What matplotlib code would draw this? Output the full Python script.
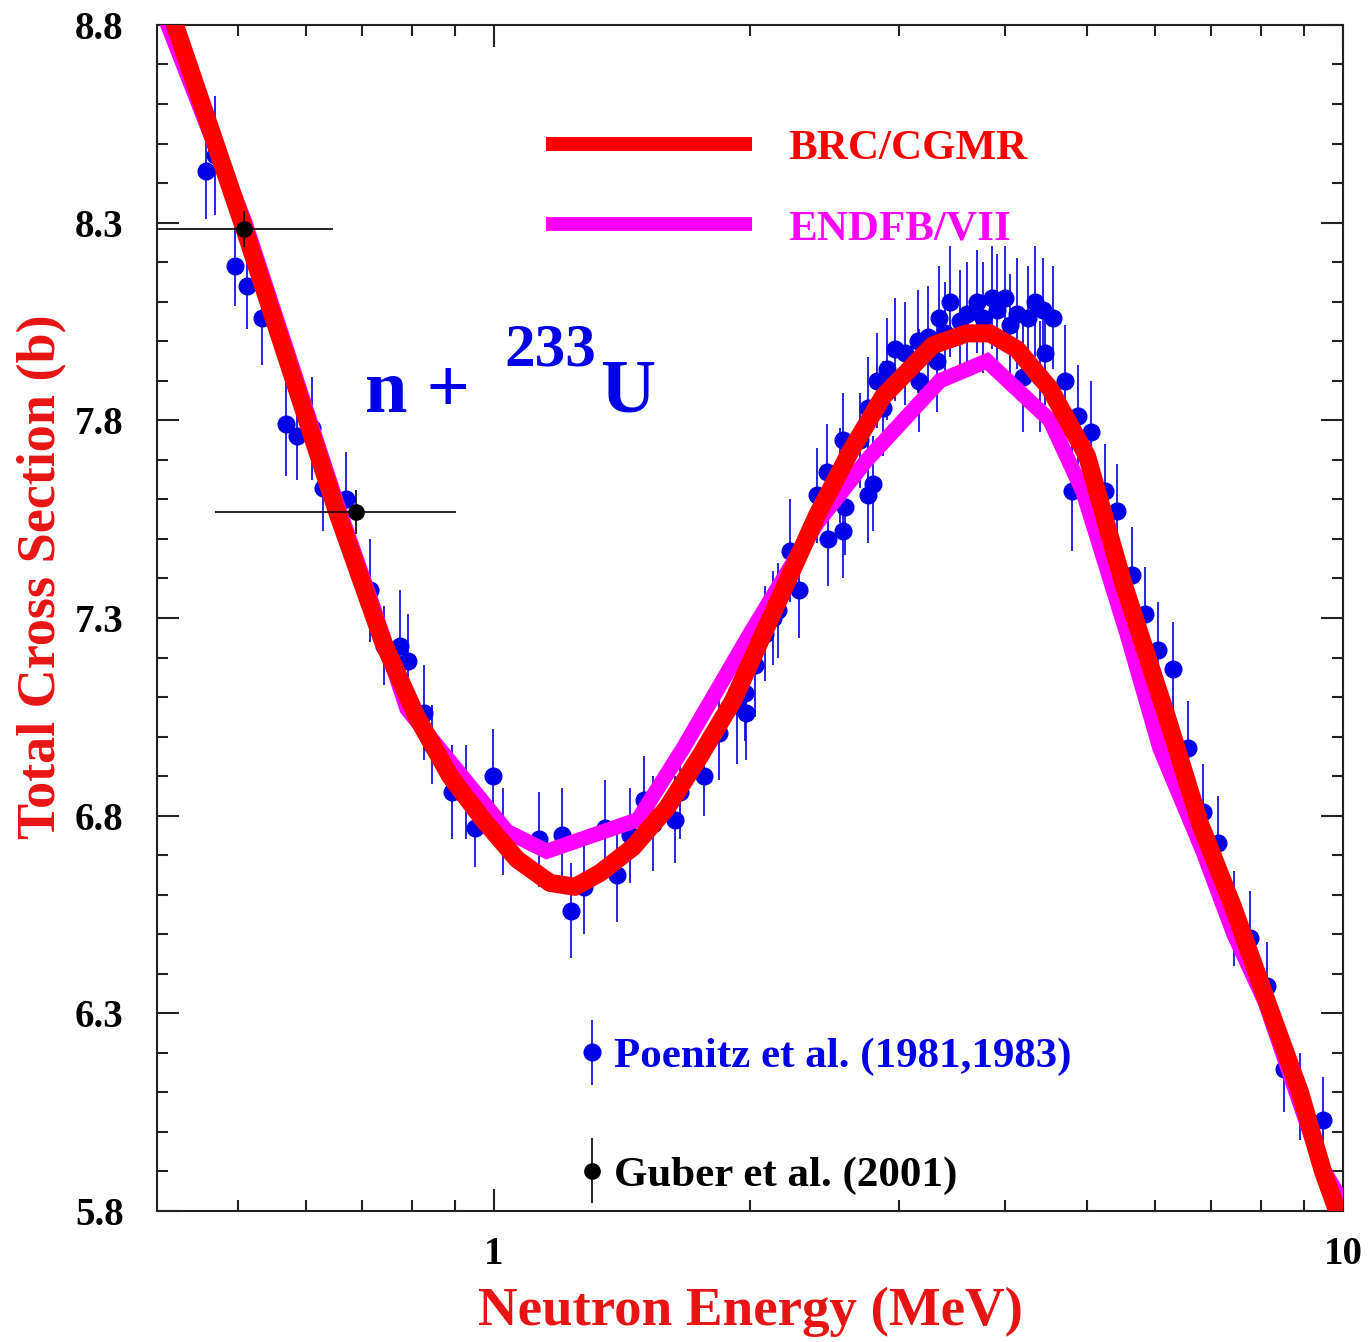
import numpy as np
import matplotlib
matplotlib.use('Agg')
import matplotlib.pyplot as plt
from matplotlib.ticker import FixedLocator, NullFormatter, LogLocator, MultipleLocator
from matplotlib.container import ErrorbarContainer
from matplotlib.legend_handler import HandlerErrorbar

plt.rcParams['font.family'] = ['Liberation Serif', 'DejaVu Serif']
plt.rcParams['font.weight'] = 'bold'

BLUE = '#0000e6'
RED = '#ff0000'
LABEL_RED = '#e81414'
MAGENTA = '#ff00ff'

# Poenitz et al. (1981,1983): energy (MeV), total cross section (b), error (b)
poen_E = [0.458, 0.469, 0.495, 0.512, 0.533, 0.569, 0.586, 0.610, 0.629, 0.669,
          0.714, 0.742, 0.775, 0.792, 0.827, 0.845, 0.892, 0.927, 0.950, 0.997,
          1.025, 1.130, 1.202, 1.232, 1.276, 1.351, 1.396, 1.446, 1.502, 1.539,
          1.634, 1.656, 1.767, 1.841, 1.932, 1.975, 1.981, 2.030, 2.085, 2.131,
          2.160, 2.232, 2.287, 2.402, 2.467, 2.474, 2.556, 2.575, 2.591, 2.580,
          2.698, 2.757, 2.795, 2.760, 2.826, 2.872, 2.903, 2.967, 3.049, 3.158,
          3.166, 3.245, 3.325, 3.343, 3.398, 3.444, 3.539, 3.607, 3.707, 3.767,
          3.860, 3.913, 3.999, 4.054, 4.130, 4.199, 4.256, 4.338, 4.398, 4.433,
          4.457, 4.555, 4.706, 4.796, 4.875, 5.050, 5.245, 5.418, 5.643, 5.846,
          6.055, 6.306, 6.567, 6.840, 7.124, 7.440, 7.771, 8.137, 8.520, 8.901,
          9.472]
poen_s = [8.43, 8.47, 8.19, 8.14, 8.06, 7.79, 7.76, 7.78, 7.63, 7.60,
          7.37, 7.23, 7.23, 7.19, 7.06, 6.98, 6.86, 6.86, 6.77, 6.90,
          6.76, 6.74, 6.75, 6.56, 6.62, 6.77, 6.65, 6.75, 6.84, 6.78,
          6.79, 6.86, 6.90, 7.01, 7.08, 7.11, 7.06, 7.18, 7.26, 7.30,
          7.32, 7.47, 7.37, 7.61, 7.67, 7.50, 7.66, 7.52, 7.58, 7.75,
          7.75, 7.61, 7.64, 7.83, 7.90, 7.83, 7.93, 7.98, 7.97, 8.00,
          7.90, 8.01, 7.95, 8.06, 8.02, 8.10, 8.05, 8.07, 8.10, 8.06,
          8.11, 8.08, 8.11, 8.04, 8.07, 7.91, 8.06, 8.10, 7.91, 8.08,
          7.97, 8.06, 7.90, 7.62, 7.81, 7.77, 7.62, 7.57, 7.41, 7.31,
          7.22, 7.17, 6.97, 6.81, 6.73, 6.54, 6.49, 6.37, 6.16, 6.09,
          6.03]
poen_err = [0.12, 0.15, 0.10, 0.11, 0.12, 0.13, 0.11, 0.13, 0.11, 0.12,
            0.13, 0.10, 0.14, 0.12, 0.12, 0.10, 0.12, 0.12, 0.10, 0.12,
            0.11, 0.12, 0.12, 0.12, 0.12, 0.12, 0.12, 0.12, 0.11, 0.12,
            0.11, 0.12, 0.10, 0.12, 0.15, 0.12, 0.12, 0.13, 0.12, 0.12,
            0.12, 0.13, 0.12, 0.12, 0.12, 0.12, 0.12, 0.12, 0.12, 0.12,
            0.12, 0.12, 0.12, 0.13, 0.12, 0.12, 0.13, 0.13, 0.13, 0.13,
            0.13, 0.13, 0.13, 0.13, 0.13, 0.14, 0.13, 0.13, 0.13, 0.14,
            0.13, 0.14, 0.13, 0.13, 0.14, 0.14, 0.13, 0.14, 0.14, 0.13,
            0.13, 0.13, 0.14, 0.15, 0.13, 0.13, 0.12, 0.12, 0.12, 0.12,
            0.12, 0.12, 0.12, 0.12, 0.12, 0.12, 0.12, 0.11, 0.11, 0.11,
            0.11]

# Guber et al. (2001)
gub_E = [0.508, 0.688]
gub_s = [8.284, 7.568]
gub_xlo = [0.108, 0.219]
gub_xhi = [0.138, 0.214]
gub_err = [0.045, 0.055]

# BRC/CGMR evaluation
brc_E = [0.40, 0.421, 0.509, 0.653, 0.740, 0.811, 0.888, 0.971, 1.064, 1.164,
         1.246, 1.333, 1.458, 1.599, 1.748, 1.912, 2.097, 2.402, 2.627, 2.872,
         3.289, 3.607, 3.838, 4.130, 4.517, 4.994, 5.507, 6.203, 6.785, 7.420,
         8.137, 8.901, 9.472, 10.0]
brc_s = [8.93, 8.80, 8.28, 7.57, 7.24, 7.05, 6.90, 6.79, 6.69, 6.63,
         6.62, 6.655, 6.72, 6.82, 6.95, 7.09, 7.28, 7.56, 7.72, 7.86,
         7.99, 8.02, 8.02, 7.98, 7.88, 7.71, 7.39, 7.05, 6.78, 6.57,
         6.33, 6.10, 5.90, 5.76]

# ENDF/B-VII evaluation
endf_E = [0.40, 0.413, 0.509, 0.653, 0.720, 0.790, 1.036, 1.154, 1.478, 1.670,
          2.002, 2.402, 2.750, 3.352, 3.807, 4.517, 4.940, 5.567, 6.088, 6.840,
          7.440, 8.093, 9.448, 10.0]
endf_s = [8.89, 8.80, 8.30, 7.59, 7.33, 7.07, 6.76, 6.71, 6.79, 6.97,
          7.26, 7.54, 7.70, 7.90, 7.95, 7.80, 7.62, 7.26, 6.97, 6.71,
          6.50, 6.33, 5.91, 5.82]

y_ticks = [5.8, 6.3, 6.8, 7.3, 7.8, 8.3, 8.8]
x_ticks = [1, 10]

fig = plt.figure(figsize=(13.69, 13.42), dpi=100)
ax = fig.add_axes([0.1147, 0.0976, 0.8663, 0.8838])

poen = ax.errorbar(poen_E, poen_s, yerr=poen_err, fmt='o', color=BLUE, ms=12,
                   elinewidth=1.2, capsize=0, zorder=2)
mag_line, = ax.plot(endf_E, endf_s, color=MAGENTA, lw=11, zorder=3,
                    solid_joinstyle='miter')
red_line, = ax.plot(brc_E, brc_s, color=RED, lw=13, zorder=4, solid_joinstyle='round')
ax.errorbar(gub_E, gub_s, xerr=[gub_xlo, gub_xhi], yerr=gub_err, fmt='o', color='k',
            ms=11, elinewidth=1.2, capsize=0, zorder=5)
# proxy for the Guber legend entry (vertical bar only)
gub_proxy = ax.errorbar([np.nan], [np.nan], yerr=[0.05], fmt='o', color='k', ms=11,
                        elinewidth=1.2, capsize=0)

ax.set_xscale('log')
ax.set_xlim(0.401, 10)
ax.set_ylim(5.8, 8.8)

ax.xaxis.set_major_locator(FixedLocator(x_ticks))
ax.set_xticklabels([str(v) for v in x_ticks])
ax.xaxis.set_minor_locator(LogLocator(base=10, subs=np.arange(2, 10)))
ax.xaxis.set_minor_formatter(NullFormatter())
ax.yaxis.set_major_locator(FixedLocator(y_ticks))
ax.set_yticklabels(['%.1f' % v for v in y_ticks])
ax.yaxis.set_minor_locator(MultipleLocator(0.1))

ax.tick_params(which='both', direction='in', top=True, right=True, color='#222222', width=1.5)
ax.tick_params(which='major', length=16, labelsize=28)
ax.tick_params(which='minor', length=8)
ax.tick_params(axis='y', which='major', pad=24)
ax.tick_params(axis='x', which='major', pad=18)
for sp in ax.spines.values():
    sp.set_linewidth(1.5)
    sp.set_color('#222222')

ax.set_xlabel('Neutron Energy (MeV)', color=LABEL_RED, fontsize=39.5,
              fontweight='bold', labelpad=10)
ax.set_ylabel('Total Cross Section (b)', color=LABEL_RED, fontsize=39, fontweight='bold')
ax.yaxis.set_label_coords(-0.076, 0.535)

# reaction label
ax.text(0.175, 0.674, 'n +', transform=ax.transAxes, color=BLUE, fontsize=55,
        ha='left', va='baseline')
ax.text(0.293, 0.713, '233', transform=ax.transAxes, color=BLUE, fontsize=44,
        ha='left', va='baseline')
ax.text(0.3735, 0.674, 'U', transform=ax.transAxes, color=BLUE, fontsize=55,
        ha='left', va='baseline')

leg1 = ax.legend([red_line, mag_line], ['BRC/CGMR', 'ENDFB/VII'], loc='upper left',
                 bbox_to_anchor=(0.328, 0.912), frameon=False, fontsize=31,
                 handlelength=4.79, handletextpad=0.84, labelspacing=0.95,
                 borderpad=0, borderaxespad=0)
for t, c in zip(leg1.get_texts(), [RED, MAGENTA]):
    t.set_color(c)
for ln in leg1.get_lines():
    ln.set_linewidth(10)
    ln.set_solid_capstyle('butt')
ax.add_artist(leg1)

leg2 = ax.legend([poen, gub_proxy], ['Poenitz et al. (1981,1983)', 'Guber et al. (2001)'],
                 loc='upper left', bbox_to_anchor=(0.356, 0.1466), frameon=False,
                 fontsize=31, handlelength=0.6, handletextpad=0.2, labelspacing=1.84,
                 borderpad=0, borderaxespad=0,
                 handler_map={ErrorbarContainer: HandlerErrorbar(xerr_size=0.75)})
for t, c in zip(leg2.get_texts(), [BLUE, 'k']):
    t.set_color(c)

fig.savefig('out.png', dpi=100)
